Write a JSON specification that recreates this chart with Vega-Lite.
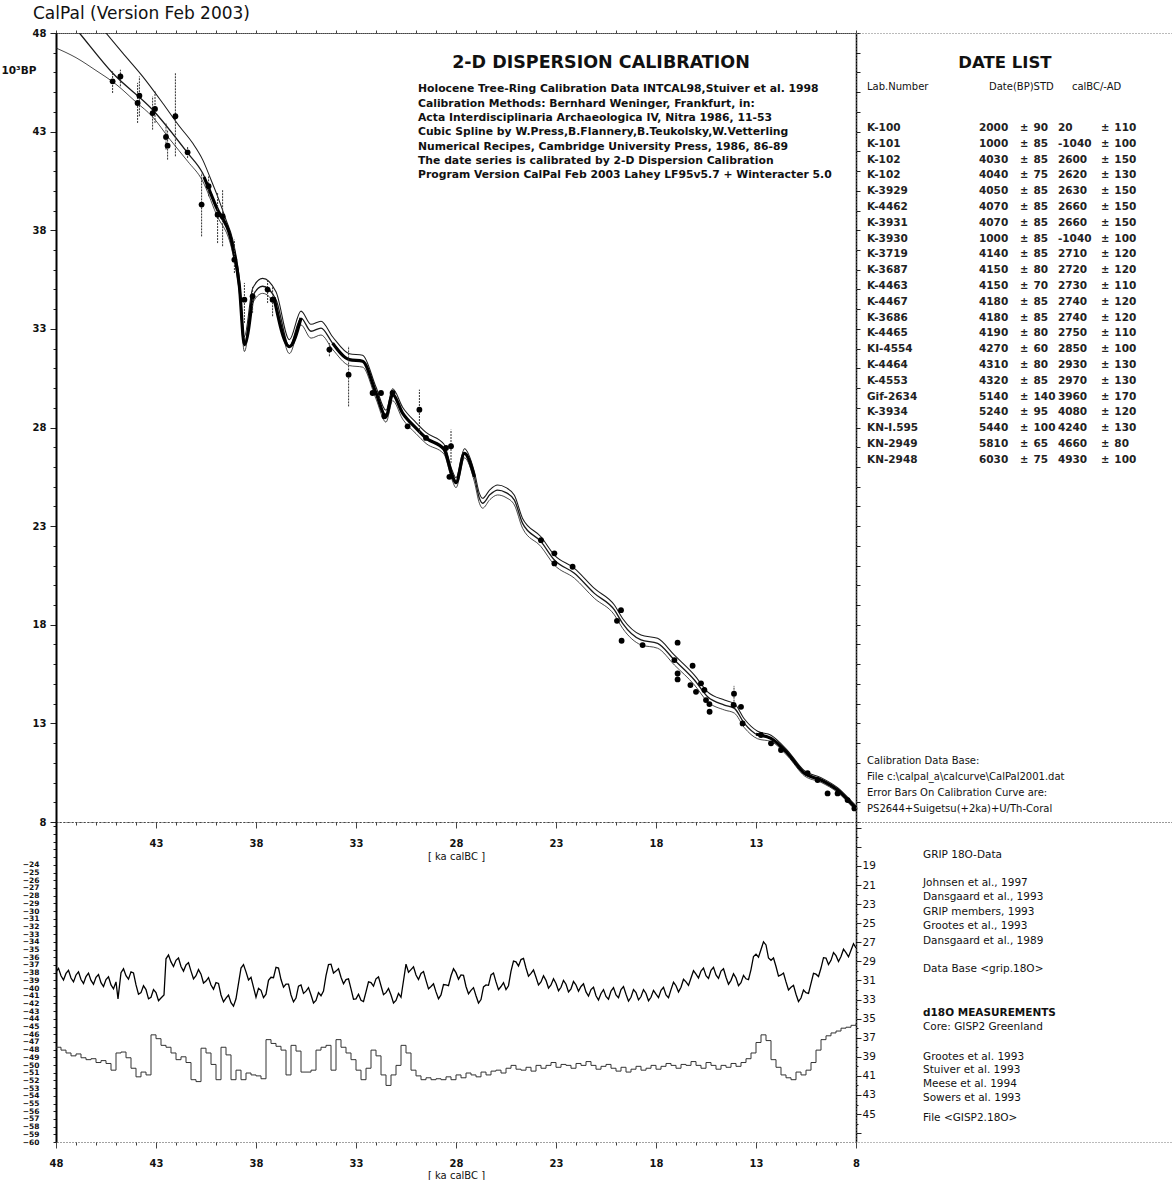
{
"$schema": "https://vega.github.io/schema/vega-lite/v6.json",
"background": "white",
"padding": {"left": 0, "top": 4, "right": 0, "bottom": 0},
"config": {
  "font": "DejaVu Sans",
  "view": {"stroke": null},
  "axis": {"grid": false, "labelFont": "DejaVu Sans", "labelFontSize": 10, "labelFontWeight": "bold", "labelColor": "#111", "tickColor": "#222", "domainColor": "#111", "titleFont": "DejaVu Sans", "titleFontWeight": "normal", "titleFontSize": 10, "titleColor": "#111", "labelOverlap": false, "labelFlush": false},
  "text": {"color": "#111"}
},
"columns": 2,
"spacing": 0,
"bounds": "flush",
"align": "each",
"concat": [
  {
    "width": 800, "height": 789,
    "view": {"stroke": "#444", "strokeDash": [2, 2]},
    "layer": [
      {
        "data": {"name": "curve"},
        "mark": {"type": "line", "interpolate": "monotone", "clip": true, "color": "#1a1a1a"},
        "encoding": {
          "x": {"field": "ka", "type": "quantitative", "scale": {"domain": [8, 48], "reverse": true, "nice": false, "zero": false},
            "axis": {"orient": "bottom", "values": [8,9,10,11,12,13,14,15,16,17,18,19,20,21,22,23,24,25,26,27,28,29,30,31,32,33,34,35,36,37,38,39,40,41,42,43,44,45,46,47,48],
              "labelExpr": "((datum.value-8)%5===0 && datum.value>8 && datum.value<48) ? datum.label : ''",
              "tickSize": {"condition": {"test": "(datum.value-8)%5===0", "value": 6}, "value": 3},
              "labelPadding": 10, "domainDash": [1, 2], "domainColor": "#444", "tickColor": "#444", "title": "[ ka calBC ]", "titlePadding": 3}},
          "y": {"field": "bp", "type": "quantitative", "scale": {"domain": [8, 48], "nice": false, "zero": false},
            "axis": {"orient": "left", "values": [8,9,10,11,12,13,14,15,16,17,18,19,20,21,22,23,24,25,26,27,28,29,30,31,32,33,34,35,36,37,38,39,40,41,42,43,44,45,46,47,48],
              "labelExpr": "(datum.value-8)%5===0 ? datum.label : ''",
              "tickSize": {"condition": {"test": "(datum.value-8)%5===0", "value": 6}, "value": 3},
              "labelPadding": 4, "domainColor": "black", "domainWidth": 2,
              "title": "10³BP", "titleAngle": 0, "titleX": -55, "titleY": 37, "titleAlign": "left", "titleBaseline": "middle", "titleFontWeight": "bold", "titleFontSize": 10.5}},
          "detail": {"field": "series"},
          "strokeWidth": {"field": "series", "type": "nominal", "scale": {"domain": ["center", "upper", "lower"], "range": [1.3, 0.8, 0.8]}, "legend": null}
        }
      },
      {
        "data": {"name": "dense"},
        "mark": {"type": "line", "interpolate": "monotone", "clip": true, "color": "black", "strokeWidth": 3.2},
        "encoding": {
          "x": {"field": "ka", "type": "quantitative", "scale": {"domain": [8, 48], "reverse": true, "nice": false, "zero": false}, "axis": null},
          "y": {"field": "bp", "type": "quantitative", "scale": {"domain": [8, 48], "nice": false, "zero": false},
            "axis": {"orient": "right", "values": [8,9,10,11,12,13,14,15,16,17,18,19,20,21,22,23,24,25,26,27,28,29,30,31,32,33,34,35,36,37,38,39,40,41,42,43,44,45,46,47,48],
              "labels": false, "tickSize": 4, "domainColor": "black", "domainWidth": 1.5, "title": null}},
          "detail": {"field": "seg"}
        }
      },
      {
        "data": {"name": "dates"},
        "transform": [{"filter": "isValid(datum.lo)"}],
        "mark": {"type": "rule", "color": "#333", "strokeWidth": 1, "strokeDash": [2, 1]},
        "encoding": {
          "x": {"field": "ka", "type": "quantitative", "scale": {"domain": [8, 48], "reverse": true, "nice": false, "zero": false}, "axis": null},
          "y": {"field": "lo", "type": "quantitative", "scale": {"domain": [8, 48], "nice": false, "zero": false}, "axis": null},
          "y2": {"field": "hi"}
        }
      },
      {
        "data": {"name": "dates"},
        "mark": {"type": "circle", "size": 34, "color": "black", "opacity": 1},
        "encoding": {
          "x": {"field": "ka", "type": "quantitative", "scale": {"domain": [8, 48], "reverse": true, "nice": false, "zero": false}, "axis": null},
          "y": {"field": "bp", "type": "quantitative", "scale": {"domain": [8, 48], "nice": false, "zero": false}, "axis": null}
        }
      },
      {
        "data": {"values": [{}]},
        "mark": {"type": "text", "fontSize": 17.5, "fontWeight": "bold", "align": "center"},
        "encoding": {
          "x": {"datum": 20.75, "type": "quantitative", "scale": {"domain": [8, 48], "reverse": true, "nice": false, "zero": false}, "axis": null},
          "y": {"datum": 46.48, "type": "quantitative", "scale": {"domain": [8, 48], "nice": false, "zero": false}, "axis": null},
          "text": {"value": "2-D DISPERSION CALIBRATION"}
        }
      },
      {
        "data": {"values": [{}]},
        "mark": {"type": "text", "fontSize": 10.8, "fontWeight": "bold", "align": "left", "baseline": "top", "lineHeight": 14.33},
        "encoding": {
          "x": {"datum": 29.9, "type": "quantitative", "scale": {"domain": [8, 48], "reverse": true, "nice": false, "zero": false}, "axis": null},
          "y": {"datum": 45.445, "type": "quantitative", "scale": {"domain": [8, 48], "nice": false, "zero": false}, "axis": null},
          "text": {"value": ["Holocene Tree-Ring Calibration Data INTCAL98,Stuiver et al. 1998", "Calibration Methods:  Bernhard Weninger, Frankfurt, in:", "Acta Interdisciplinaria Archaeologica IV, Nitra 1986, 11-53", "Cubic Spline by  W.Press,B.Flannery,B.Teukolsky,W.Vetterling", "Numerical Recipes, Cambridge University Press, 1986, 86-89", "The date series is calibrated by 2-D Dispersion Calibration", "Program Version CalPal Feb 2003 Lahey LF95v5.7 + Winteracter 5.0"]}
        }
      },
      {
        "data": {"values": [{}]},
        "mark": {"type": "text", "fontSize": 17, "fontWeight": "normal", "align": "left"},
        "encoding": {
          "x": {"datum": 49.15, "type": "quantitative", "scale": {"domain": [8, 48], "reverse": true, "nice": false, "zero": false},
            "axis": {"orient": "top", "values": [8,9,10,11,12,13,14,15,16,17,18,19,20,21,22,23,24,25,26,27,28,29,30,31,32,33,34,35,36,37,38,39,40,41,42,43,44,45,46,47,48],
              "labels": false, "tickSize": 3, "domainDash": [2, 2], "domainColor": "#444", "tickColor": "#444", "title": null}},
          "y": {"datum": 48.96, "type": "quantitative", "scale": {"domain": [8, 48], "nice": false, "zero": false}, "axis": null},
          "text": {"value": "CalPal (Version Feb 2003)"}
        }
      }
    ]
  },
  {
    "width": 317, "height": 789,
    "view": {"stroke": "#777", "strokeDash": [1, 2]},
    "layer": [
      {
        "data": {"values": [{}]},
        "mark": {"type": "text", "fontSize": 16.5, "fontWeight": "bold", "align": "center"},
        "encoding": {
          "x": {"datum": 47, "type": "quantitative", "scale": {"domain": [0, 100], "nice": false, "zero": false}, "axis": null},
          "y": {"datum": -3.11, "type": "quantitative", "scale": {"domain": [-5.013, 44.924], "reverse": true, "nice": false, "zero": false}, "axis": null},
          "text": {"value": "DATE LIST"}
        }
      },
      {
        "data": {"values": [{}]},
        "mark": {"type": "text", "fontSize": 10, "align": "left"},
        "encoding": {
          "x": {"datum": 3.47, "type": "quantitative", "scale": {"domain": [0, 100], "nice": false, "zero": false}, "axis": null},
          "y": {"datum": -1.59, "type": "quantitative", "scale": {"domain": [-5.013, 44.924], "reverse": true, "nice": false, "zero": false}, "axis": null},
          "text": {"value": "Lab.Number"}
        }
      },
      {
        "data": {"values": [{}]},
        "mark": {"type": "text", "fontSize": 10, "align": "left"},
        "encoding": {
          "x": {"datum": 41.96, "type": "quantitative", "scale": {"domain": [0, 100], "nice": false, "zero": false}, "axis": null},
          "y": {"datum": -1.59, "type": "quantitative", "scale": {"domain": [-5.013, 44.924], "reverse": true, "nice": false, "zero": false}, "axis": null},
          "text": {"value": "Date(BP)STD"}
        }
      },
      {
        "data": {"values": [{}]},
        "mark": {"type": "text", "fontSize": 10, "align": "left"},
        "encoding": {
          "x": {"datum": 68.1, "type": "quantitative", "scale": {"domain": [0, 100], "nice": false, "zero": false}, "axis": null},
          "y": {"datum": -1.59, "type": "quantitative", "scale": {"domain": [-5.013, 44.924], "reverse": true, "nice": false, "zero": false}, "axis": null},
          "text": {"value": "calBC/-AD"}
        }
      },
      {
        "data": {"name": "datelist"},
        "mark": {"type": "text", "fontSize": 10.5, "fontWeight": "bold", "align": "left", "color": "#222"},
        "encoding": {
          "x": {"datum": 3.47, "type": "quantitative", "scale": {"domain": [0, 100], "nice": false, "zero": false}, "axis": null},
          "y": {"field": "n", "type": "quantitative", "scale": {"domain": [-5.013, 44.924], "reverse": true, "nice": false, "zero": false}, "axis": null},
          "text": {"field": "lab", "type": "nominal"}
        }
      },
      {
        "data": {"name": "datelist"},
        "mark": {"type": "text", "fontSize": 10.5, "fontWeight": "bold", "align": "left", "color": "#222"},
        "encoding": {
          "x": {"datum": 38.8, "type": "quantitative", "scale": {"domain": [0, 100], "nice": false, "zero": false}, "axis": null},
          "y": {"field": "n", "type": "quantitative", "scale": {"domain": [-5.013, 44.924], "reverse": true, "nice": false, "zero": false}, "axis": null},
          "text": {"field": "date", "type": "nominal"}
        }
      },
      {
        "data": {"name": "datelist"},
        "mark": {"type": "text", "fontSize": 10, "fontWeight": "bold", "align": "left", "color": "#222"},
        "encoding": {
          "x": {"datum": 51.7, "type": "quantitative", "scale": {"domain": [0, 100], "nice": false, "zero": false}, "axis": null},
          "y": {"field": "n", "type": "quantitative", "scale": {"domain": [-5.013, 44.924], "reverse": true, "nice": false, "zero": false}, "axis": null},
          "text": {"value": "±"}
        }
      },
      {
        "data": {"name": "datelist"},
        "mark": {"type": "text", "fontSize": 10.5, "fontWeight": "bold", "align": "left", "color": "#222"},
        "encoding": {
          "x": {"datum": 56, "type": "quantitative", "scale": {"domain": [0, 100], "nice": false, "zero": false}, "axis": null},
          "y": {"field": "n", "type": "quantitative", "scale": {"domain": [-5.013, 44.924], "reverse": true, "nice": false, "zero": false}, "axis": null},
          "text": {"field": "std", "type": "nominal"}
        }
      },
      {
        "data": {"name": "datelist"},
        "mark": {"type": "text", "fontSize": 10.5, "fontWeight": "bold", "align": "left", "color": "#222"},
        "encoding": {
          "x": {"datum": 63.7, "type": "quantitative", "scale": {"domain": [0, 100], "nice": false, "zero": false}, "axis": null},
          "y": {"field": "n", "type": "quantitative", "scale": {"domain": [-5.013, 44.924], "reverse": true, "nice": false, "zero": false}, "axis": null},
          "text": {"field": "cal", "type": "nominal"}
        }
      },
      {
        "data": {"name": "datelist"},
        "mark": {"type": "text", "fontSize": 10, "fontWeight": "bold", "align": "left", "color": "#222"},
        "encoding": {
          "x": {"datum": 77.3, "type": "quantitative", "scale": {"domain": [0, 100], "nice": false, "zero": false}, "axis": null},
          "y": {"field": "n", "type": "quantitative", "scale": {"domain": [-5.013, 44.924], "reverse": true, "nice": false, "zero": false}, "axis": null},
          "text": {"value": "±"}
        }
      },
      {
        "data": {"name": "datelist"},
        "mark": {"type": "text", "fontSize": 10.5, "fontWeight": "bold", "align": "left", "color": "#222"},
        "encoding": {
          "x": {"datum": 81.5, "type": "quantitative", "scale": {"domain": [0, 100], "nice": false, "zero": false}, "axis": null},
          "y": {"field": "n", "type": "quantitative", "scale": {"domain": [-5.013, 44.924], "reverse": true, "nice": false, "zero": false}, "axis": null},
          "text": {"field": "calstd", "type": "nominal"}
        }
      },
      {
        "data": {"values": [{}]},
        "mark": {"type": "text", "fontSize": 10, "align": "left", "baseline": "top", "lineHeight": 16},
        "encoding": {
          "x": {"datum": 3.47, "type": "quantitative", "scale": {"domain": [0, 100], "nice": false, "zero": false}, "axis": null},
          "y": {"datum": 40.73, "type": "quantitative", "scale": {"domain": [-5.013, 44.924], "reverse": true, "nice": false, "zero": false}, "axis": null},
          "text": {"value": ["Calibration Data Base:", "File c:\\calpal_a\\calcurve\\CalPal2001.dat", "Error Bars On Calibration Curve are:", "PS2644+Suigetsu(+2ka)+U/Th-Coral"]}
        }
      }
    ]
  },
  {
    "width": 800, "height": 320,
    "resolve": {"scale": {"y": "independent"}},
    "layer": [
      {
        "data": {"name": "grip"},
        "mark": {"type": "line", "color": "black", "strokeWidth": 1.3, "clip": true},
        "encoding": {
          "x": {"field": "ka", "type": "quantitative", "scale": {"domain": [8, 48], "reverse": true, "nice": false, "zero": false},
            "axis": {"orient": "bottom", "values": [8,9,10,11,12,13,14,15,16,17,18,19,20,21,22,23,24,25,26,27,28,29,30,31,32,33,34,35,36,37,38,39,40,41,42,43,44,45,46,47,48],
              "labelExpr": "(datum.value-8)%5===0 ? datum.label : ''",
              "tickSize": {"condition": {"test": "(datum.value-8)%5===0", "value": 6}, "value": 3},
              "labelPadding": 10, "domainDash": [1, 2], "domainColor": "#444", "tickColor": "#444", "title": "[ ka calBC ]", "titlePadding": 2}},
          "y": {"field": "d18o", "type": "quantitative", "scale": {"domain": [-60, -18.43], "nice": false, "zero": false},
            "axis": {"orient": "left", "values": [-60,-59,-58,-57,-56,-55,-54,-53,-52,-51,-50,-49,-48,-47,-46,-45,-44,-43,-42,-41,-40,-39,-38,-37,-36,-35,-34,-33,-32,-31,-30,-29,-28,-27,-26,-25,-24,-23,-22,-21,-20,-19],
              "labelExpr": "datum.value<=-24 ? datum.label : ''", "labelFontSize": 7.5, "labelFontWeight": "bold",
              "tickSize": 3, "labelPadding": 14, "domainColor": "black", "domainWidth": 2, "title": null}}
        }
      },
      {
        "data": {"name": "gisp2"},
        "mark": {"type": "line", "interpolate": "step-after", "color": "#333", "strokeWidth": 1, "clip": true},
        "encoding": {
          "x": {"field": "ka", "type": "quantitative", "scale": {"domain": [8, 48], "reverse": true, "nice": false, "zero": false},
            "axis": {"orient": "bottom", "values": [8,9,10,11,12,13,14,15,16,17,18,19,20,21,22,23,24,25,26,27,28,29,30,31,32,33,34,35,36,37,38,39,40,41,42,43,44,45,46,47,48],
              "labelExpr": "(datum.value-8)%5===0 ? datum.label : ''",
              "tickSize": {"condition": {"test": "(datum.value-8)%5===0", "value": 6}, "value": 3},
              "labelPadding": 10, "domainDash": [1, 2], "domainColor": "#444", "tickColor": "#444", "title": "[ ka calBC ]", "titlePadding": 2}},
          "y": {"field": "d18o", "type": "quantitative", "scale": {"domain": [14.39, 47.93], "reverse": true, "nice": false, "zero": false},
            "axis": {"orient": "right", "values": [15,16,17,18,19,20,21,22,23,24,25,26,27,28,29,30,31,32,33,34,35,36,37,38,39,40,41,42,43,44,45,46,47],
              "labelExpr": "(datum.value%2===1 && datum.value>=19 && datum.value<=45) ? datum.label : ''",
              "tickSize": {"condition": {"test": "datum.value%2===1", "value": 5}, "value": 2},
              "labelPadding": 1, "labelFontWeight": "normal", "labelFontSize": 10.5, "domainColor": "black", "domainWidth": 1.5, "title": null}}
        }
      }
    ]
  },
  {
    "width": 317, "height": 320,
    "view": {"stroke": "#777", "strokeDash": [1, 2]},
    "layer": [
      {
        "data": {"values": [{}]},
        "mark": {"type": "text", "fontSize": 10.5, "align": "left"},
        "encoding": {
          "x": {"datum": 6.7, "type": "quantitative", "scale": {"domain": [0, 31.7], "nice": false, "zero": false}, "axis": null},
          "y": {"datum": 3.3, "type": "quantitative", "scale": {"domain": [0, 32], "reverse": true, "nice": false, "zero": false}, "axis": null},
          "text": {"value": "GRIP 18O-Data"}
        }
      },
      {
        "data": {"values": [{}]},
        "mark": {"type": "text", "fontSize": 10.5, "align": "left", "baseline": "top", "lineHeight": 14.5},
        "encoding": {
          "x": {"datum": 6.7, "type": "quantitative", "scale": {"domain": [0, 31.7], "nice": false, "zero": false}, "axis": null},
          "y": {"datum": 5.55, "type": "quantitative", "scale": {"domain": [0, 32], "reverse": true, "nice": false, "zero": false}, "axis": null},
          "text": {"value": ["Johnsen et al., 1997", "Dansgaard et al., 1993", "GRIP members, 1993", "Grootes et al., 1993", "Dansgaard et al., 1989"]}
        }
      },
      {
        "data": {"values": [{}]},
        "mark": {"type": "text", "fontSize": 10.5, "align": "left"},
        "encoding": {
          "x": {"datum": 6.7, "type": "quantitative", "scale": {"domain": [0, 31.7], "nice": false, "zero": false}, "axis": null},
          "y": {"datum": 14.7, "type": "quantitative", "scale": {"domain": [0, 32], "reverse": true, "nice": false, "zero": false}, "axis": null},
          "text": {"value": "Data Base <grip.18O>"}
        }
      },
      {
        "data": {"values": [{}]},
        "mark": {"type": "text", "fontSize": 10.5, "fontWeight": "bold", "align": "left"},
        "encoding": {
          "x": {"datum": 6.7, "type": "quantitative", "scale": {"domain": [0, 31.7], "nice": false, "zero": false}, "axis": null},
          "y": {"datum": 19.1, "type": "quantitative", "scale": {"domain": [0, 32], "reverse": true, "nice": false, "zero": false}, "axis": null},
          "text": {"value": "d18O MEASUREMENTS"}
        }
      },
      {
        "data": {"values": [{}]},
        "mark": {"type": "text", "fontSize": 10.5, "align": "left"},
        "encoding": {
          "x": {"datum": 6.7, "type": "quantitative", "scale": {"domain": [0, 31.7], "nice": false, "zero": false}, "axis": null},
          "y": {"datum": 20.5, "type": "quantitative", "scale": {"domain": [0, 32], "reverse": true, "nice": false, "zero": false}, "axis": null},
          "text": {"value": "Core: GISP2 Greenland"}
        }
      },
      {
        "data": {"values": [{}]},
        "mark": {"type": "text", "fontSize": 10.5, "align": "left", "baseline": "top", "lineHeight": 13.7},
        "encoding": {
          "x": {"datum": 6.7, "type": "quantitative", "scale": {"domain": [0, 31.7], "nice": false, "zero": false}, "axis": null},
          "y": {"datum": 22.95, "type": "quantitative", "scale": {"domain": [0, 32], "reverse": true, "nice": false, "zero": false}, "axis": null},
          "text": {"value": ["Grootes et al. 1993", "Stuiver et al. 1993", "Meese et al. 1994", "Sowers et al. 1993"]}
        }
      },
      {
        "data": {"values": [{}]},
        "mark": {"type": "text", "fontSize": 10.5, "align": "left"},
        "encoding": {
          "x": {"datum": 6.7, "type": "quantitative", "scale": {"domain": [0, 31.7], "nice": false, "zero": false}, "axis": null},
          "y": {"datum": 29.6, "type": "quantitative", "scale": {"domain": [0, 32], "reverse": true, "nice": false, "zero": false}, "axis": null},
          "text": {"value": "File <GISP2.18O>"}
        }
      }
    ]
  }
],
"datasets": {
  "curve": [
    {"series":"center","ka":47.5,"bp":48.82},{"series":"center","ka":46.83,"bp":48.0},{"series":"center","ka":45.17,"bp":45.97},{"series":"center","ka":43.17,"bp":44.11},{"series":"center","ka":41.42,"bp":41.92},{"series":"center","ka":40.67,"bp":40.9},{"series":"center","ka":40.0,"bp":39.21},{"series":"center","ka":39.17,"bp":37.19},{"series":"center","ka":38.83,"bp":35.16},{"series":"center","ka":38.58,"bp":32.2},{"series":"center","ka":38.17,"bp":34.65},{"series":"center","ka":37.67,"bp":35.16},{"series":"center","ka":37.0,"bp":34.48},{"series":"center","ka":36.33,"bp":32.1},{"series":"center","ka":35.75,"bp":33.55},{"series":"center","ka":35.25,"bp":32.88},{"series":"center","ka":34.75,"bp":33.04},{"series":"center","ka":34.17,"bp":32.28},{"series":"center","ka":33.33,"bp":31.44},{"series":"center","ka":32.67,"bp":31.36},{"series":"center","ka":32.0,"bp":29.75},{"series":"center","ka":31.5,"bp":28.57},{"series":"center","ka":31.17,"bp":29.66},{"series":"center","ka":30.67,"bp":28.73},{"series":"center","ka":30.0,"bp":27.97},{"series":"center","ka":29.5,"bp":27.47},{"series":"center","ka":28.6,"bp":26.9},{"series":"center","ka":28.2,"bp":25.6},{"series":"center","ka":28.0,"bp":25.2},{"series":"center","ka":27.58,"bp":26.69},{"series":"center","ka":27.08,"bp":25.5},{"series":"center","ka":26.83,"bp":24.41},{"series":"center","ka":26.67,"bp":24.16},{"series":"center","ka":26.3,"bp":24.6},{"series":"center","ka":25.92,"bp":24.83},{"series":"center","ka":25.5,"bp":24.7},{"series":"center","ka":25.08,"bp":24.32},{"series":"center","ka":24.67,"bp":23.14},{"series":"center","ka":23.75,"bp":22.21},{"series":"center","ka":23.08,"bp":21.28},{"series":"center","ka":22.08,"bp":20.61},{"series":"center","ka":21.08,"bp":19.59},{"series":"center","ka":20.08,"bp":18.75},{"series":"center","ka":19.67,"bp":18.07},{"series":"center","ka":18.75,"bp":17.23},{"series":"center","ka":17.92,"bp":17.06},{"series":"center","ka":17.08,"bp":16.21},{"series":"center","ka":16.08,"bp":15.2},{"series":"center","ka":15.42,"bp":14.35},{"series":"center","ka":14.58,"bp":13.93},{"series":"center","ka":14.08,"bp":13.76},{"series":"center","ka":13.58,"bp":13.0},{"series":"center","ka":12.92,"bp":12.41},{"series":"center","ka":12.25,"bp":12.24},{"series":"center","ka":11.42,"bp":11.48},{"series":"center","ka":10.58,"bp":10.47},{"series":"center","ka":9.75,"bp":10.13},{"series":"center","ka":8.92,"bp":9.62},{"series":"center","ka":8.08,"bp":8.78},{"series":"center","ka":8.0,"bp":8.7},
    {"series":"upper","ka":45.5,"bp":48.0},{"series":"upper","ka":44.67,"bp":46.99},{"series":"upper","ka":43.67,"bp":45.8},{"series":"upper","ka":42.67,"bp":44.45},{"series":"upper","ka":41.83,"bp":43.27},{"series":"upper","ka":41.17,"bp":42.42},{"series":"upper","ka":40.67,"bp":41.58},{"series":"upper","ka":40.25,"bp":40.56},{"series":"upper","ka":39.92,"bp":39.72},{"series":"upper","ka":39.5,"bp":38.53},{"series":"upper","ka":39.17,"bp":37.55},{"series":"upper","ka":38.83,"bp":35.55},{"series":"upper","ka":38.58,"bp":32.6},{"series":"upper","ka":38.17,"bp":35.05},{"series":"upper","ka":37.67,"bp":35.56},{"series":"upper","ka":37.0,"bp":34.88},{"series":"upper","ka":36.33,"bp":32.45},{"series":"upper","ka":35.75,"bp":33.9},{"series":"upper","ka":35.25,"bp":33.23},{"series":"upper","ka":34.75,"bp":33.39},{"series":"upper","ka":34.17,"bp":32.6},{"series":"upper","ka":33.33,"bp":31.74},{"series":"upper","ka":32.67,"bp":31.66},{"series":"upper","ka":32.0,"bp":30.05},{"series":"upper","ka":31.5,"bp":28.87},{"series":"upper","ka":31.17,"bp":29.96},{"series":"upper","ka":30.67,"bp":29.03},{"series":"upper","ka":30.0,"bp":28.25},{"series":"upper","ka":29.5,"bp":27.75},{"series":"upper","ka":28.6,"bp":27.15},{"series":"upper","ka":28.2,"bp":25.85},{"series":"upper","ka":28.0,"bp":25.45},{"series":"upper","ka":27.58,"bp":26.92},{"series":"upper","ka":27.08,"bp":25.75},{"series":"upper","ka":26.83,"bp":24.66},{"series":"upper","ka":26.67,"bp":24.41},{"series":"upper","ka":26.3,"bp":24.85},{"series":"upper","ka":25.92,"bp":25.08},{"series":"upper","ka":25.5,"bp":24.95},{"series":"upper","ka":25.08,"bp":24.57},{"series":"upper","ka":24.67,"bp":23.39},{"series":"upper","ka":23.75,"bp":22.46},{"series":"upper","ka":23.08,"bp":21.53},{"series":"upper","ka":22.08,"bp":20.86},{"series":"upper","ka":21.08,"bp":19.84},{"series":"upper","ka":20.08,"bp":19.0},{"series":"upper","ka":19.67,"bp":18.32},{"series":"upper","ka":18.75,"bp":17.48},{"series":"upper","ka":17.92,"bp":17.31},{"series":"upper","ka":17.08,"bp":16.46},{"series":"upper","ka":16.08,"bp":15.45},{"series":"upper","ka":15.42,"bp":14.6},{"series":"upper","ka":14.58,"bp":14.18},{"series":"upper","ka":14.08,"bp":14.0},{"series":"upper","ka":13.58,"bp":13.22},{"series":"upper","ka":12.92,"bp":12.6},{"series":"upper","ka":12.25,"bp":12.4},{"series":"upper","ka":11.42,"bp":11.62},{"series":"upper","ka":10.58,"bp":10.6},{"series":"upper","ka":9.75,"bp":10.25},{"series":"upper","ka":8.92,"bp":9.74},{"series":"upper","ka":8.08,"bp":8.9},{"series":"upper","ka":8.0,"bp":8.82},
    {"series":"lower","ka":48.0,"bp":47.24},{"series":"lower","ka":47.0,"bp":46.75},{"series":"lower","ka":46.0,"bp":46.1},{"series":"lower","ka":45.0,"bp":45.4},{"series":"lower","ka":44.0,"bp":44.5},{"series":"lower","ka":43.17,"bp":43.75},{"series":"lower","ka":42.3,"bp":42.6},{"series":"lower","ka":41.42,"bp":41.5},{"series":"lower","ka":40.67,"bp":40.5},{"series":"lower","ka":40.0,"bp":38.85},{"series":"lower","ka":39.17,"bp":36.85},{"series":"lower","ka":38.83,"bp":34.8},{"series":"lower","ka":38.58,"bp":31.85},{"series":"lower","ka":38.17,"bp":34.3},{"series":"lower","ka":37.67,"bp":34.8},{"series":"lower","ka":37.0,"bp":34.12},{"series":"lower","ka":36.33,"bp":31.75},{"series":"lower","ka":35.75,"bp":33.2},{"series":"lower","ka":35.25,"bp":32.53},{"series":"lower","ka":34.75,"bp":32.69},{"series":"lower","ka":34.17,"bp":31.96},{"series":"lower","ka":33.33,"bp":31.14},{"series":"lower","ka":32.67,"bp":31.06},{"series":"lower","ka":32.0,"bp":29.45},{"series":"lower","ka":31.5,"bp":28.27},{"series":"lower","ka":31.17,"bp":29.36},{"series":"lower","ka":30.67,"bp":28.43},{"series":"lower","ka":30.0,"bp":27.69},{"series":"lower","ka":29.5,"bp":27.19},{"series":"lower","ka":28.6,"bp":26.65},{"series":"lower","ka":28.2,"bp":25.35},{"series":"lower","ka":28.0,"bp":24.95},{"series":"lower","ka":27.58,"bp":26.46},{"series":"lower","ka":27.08,"bp":25.25},{"series":"lower","ka":26.83,"bp":24.16},{"series":"lower","ka":26.67,"bp":23.91},{"series":"lower","ka":26.3,"bp":24.35},{"series":"lower","ka":25.92,"bp":24.58},{"series":"lower","ka":25.5,"bp":24.45},{"series":"lower","ka":25.08,"bp":24.07},{"series":"lower","ka":24.67,"bp":22.89},{"series":"lower","ka":23.75,"bp":21.96},{"series":"lower","ka":23.08,"bp":21.03},{"series":"lower","ka":22.08,"bp":20.36},{"series":"lower","ka":21.08,"bp":19.34},{"series":"lower","ka":20.08,"bp":18.5},{"series":"lower","ka":19.67,"bp":17.82},{"series":"lower","ka":18.75,"bp":16.98},{"series":"lower","ka":17.92,"bp":16.81},{"series":"lower","ka":17.08,"bp":15.96},{"series":"lower","ka":16.08,"bp":14.95},{"series":"lower","ka":15.42,"bp":14.1},{"series":"lower","ka":14.58,"bp":13.68},{"series":"lower","ka":14.08,"bp":13.52},{"series":"lower","ka":13.58,"bp":12.78},{"series":"lower","ka":12.92,"bp":12.22},{"series":"lower","ka":12.25,"bp":12.08},{"series":"lower","ka":11.42,"bp":11.34},{"series":"lower","ka":10.58,"bp":10.34},{"series":"lower","ka":9.75,"bp":10.01},{"series":"lower","ka":8.92,"bp":9.5},{"series":"lower","ka":8.08,"bp":8.66},{"series":"lower","ka":8.0,"bp":8.58}
  ],
  "dense": [
    {"seg":"a","ka":40.6,"bp":40.7},{"seg":"a","ka":40.0,"bp":39.21},{"seg":"a","ka":39.17,"bp":37.19},{"seg":"a","ka":38.83,"bp":35.16},{"seg":"a","ka":38.58,"bp":32.2},{"seg":"a","ka":38.17,"bp":34.65},
    {"seg":"b","ka":37.1,"bp":34.6},{"seg":"b","ka":36.33,"bp":32.1},{"seg":"b","ka":35.75,"bp":33.55},
    {"seg":"c","ka":34.17,"bp":32.28},{"seg":"c","ka":33.33,"bp":31.44},{"seg":"c","ka":32.67,"bp":31.36},{"seg":"c","ka":32.0,"bp":29.75},{"seg":"c","ka":31.5,"bp":28.57},{"seg":"c","ka":31.17,"bp":29.66},{"seg":"c","ka":30.67,"bp":28.73},{"seg":"c","ka":30.0,"bp":27.97},{"seg":"c","ka":29.5,"bp":27.47},{"seg":"c","ka":28.6,"bp":26.9},{"seg":"c","ka":28.2,"bp":25.6},{"seg":"c","ka":28.0,"bp":25.2},{"seg":"c","ka":27.58,"bp":26.69},{"seg":"c","ka":27.08,"bp":25.5},
    {"seg":"d","ka":13.0,"bp":12.45},{"seg":"d","ka":12.25,"bp":12.24},{"seg":"d","ka":11.42,"bp":11.48},{"seg":"d","ka":10.58,"bp":10.47},{"seg":"d","ka":9.75,"bp":10.13},{"seg":"d","ka":8.92,"bp":9.62},{"seg":"d","ka":8.08,"bp":8.78},{"seg":"d","ka":8.0,"bp":8.7}
  ],
  "dates": [
    {"ka":45.17,"bp":45.55,"lo":44.96,"hi":46.06},{"ka":44.78,"bp":45.8,"lo":45.3,"hi":46.14},{"ka":43.92,"bp":44.45,"lo":43.44,"hi":45.47},{"ka":43.83,"bp":44.82,"lo":43.78,"hi":45.8},{"ka":43.17,"bp":43.94,"lo":43.1,"hi":44.79},{"ka":43.05,"bp":44.15,"lo":43.44,"hi":45.04},{"ka":42.5,"bp":42.73,"lo":42.09,"hi":43.44},{"ka":42.42,"bp":42.29,"lo":41.58,"hi":43.1},{"ka":42.03,"bp":43.78,"lo":41.75,"hi":45.97},{"ka":41.42,"bp":41.95,"lo":41.66,"hi":42.25},{"ka":40.72,"bp":39.3,"lo":37.69,"hi":40.9},{"ka":40.37,"bp":40.23,"lo":39.72,"hi":40.73},{"ka":39.92,"bp":38.79,"lo":37.35,"hi":39.89},{"ka":39.67,"bp":38.71,"lo":37.19,"hi":40.06},{"ka":39.08,"bp":36.51,"lo":35.83,"hi":37.52},{"ka":38.58,"bp":34.48,"lo":33.3,"hi":35.33},{"ka":38.17,"bp":34.65,"lo":33.81,"hi":35.16},{"ka":37.42,"bp":34.99,"lo":34.31,"hi":35.5},{"ka":37.17,"bp":34.48,"lo":33.64,"hi":35.16},{"ka":34.33,"bp":31.95,"lo":31.61,"hi":32.28},{"ka":33.37,"bp":30.68,"lo":29.07,"hi":32.12},{"ka":29.83,"bp":28.9,"lo":27.72,"hi":29.92},{"ka":28.25,"bp":27.05,"lo":26.2,"hi":27.89},{"ka":14.1,"bp":14.5,"lo":14.1,"hi":14.9},
    {"ka":32.17,"bp":29.75},{"ka":31.75,"bp":29.75},{"ka":31.58,"bp":28.57},{"ka":31.17,"bp":29.75},{"ka":30.42,"bp":28.06},{"ka":29.5,"bp":27.47},{"ka":28.5,"bp":26.96},{"ka":28.33,"bp":25.5},{"ka":23.75,"bp":22.29},{"ka":23.08,"bp":21.62},{"ka":23.08,"bp":21.11},{"ka":22.17,"bp":20.94},{"ka":19.75,"bp":18.74},{"ka":19.95,"bp":18.2},{"ka":19.72,"bp":17.19},{"ka":18.67,"bp":16.97},{"ka":16.92,"bp":17.09},{"ka":17.08,"bp":16.21},{"ka":16.92,"bp":15.53},{"ka":16.92,"bp":15.23},{"ka":16.17,"bp":15.92},{"ka":16.28,"bp":14.94},{"ka":16.0,"bp":14.6},{"ka":15.75,"bp":15.03},{"ka":15.58,"bp":14.69},{"ka":15.5,"bp":14.18},{"ka":15.32,"bp":13.59},{"ka":15.33,"bp":13.98},{"ka":14.12,"bp":13.93},{"ka":13.75,"bp":13.84},{"ka":13.67,"bp":13.0},{"ka":12.75,"bp":12.41},{"ka":12.25,"bp":11.99},{"ka":11.75,"bp":11.65},{"ka":10.42,"bp":10.47},{"ka":9.92,"bp":10.13},{"ka":9.42,"bp":9.45},{"ka":8.92,"bp":9.45},{"ka":8.42,"bp":9.11},{"ka":8.08,"bp":8.69}
  ],
  "datelist": [
    {"n":1,"lab":"K-100","date":2000,"std":90,"cal":20,"calstd":110},
    {"n":2,"lab":"K-101","date":1000,"std":85,"cal":-1040,"calstd":100},
    {"n":3,"lab":"K-102","date":4030,"std":85,"cal":2600,"calstd":150},
    {"n":4,"lab":"K-102","date":4040,"std":75,"cal":2620,"calstd":130},
    {"n":5,"lab":"K-3929","date":4050,"std":85,"cal":2630,"calstd":150},
    {"n":6,"lab":"K-4462","date":4070,"std":85,"cal":2660,"calstd":150},
    {"n":7,"lab":"K-3931","date":4070,"std":85,"cal":2660,"calstd":150},
    {"n":8,"lab":"K-3930","date":1000,"std":85,"cal":-1040,"calstd":100},
    {"n":9,"lab":"K-3719","date":4140,"std":85,"cal":2710,"calstd":120},
    {"n":10,"lab":"K-3687","date":4150,"std":80,"cal":2720,"calstd":120},
    {"n":11,"lab":"K-4463","date":4150,"std":70,"cal":2730,"calstd":110},
    {"n":12,"lab":"K-4467","date":4180,"std":85,"cal":2740,"calstd":120},
    {"n":13,"lab":"K-3686","date":4180,"std":85,"cal":2740,"calstd":120},
    {"n":14,"lab":"K-4465","date":4190,"std":80,"cal":2750,"calstd":110},
    {"n":15,"lab":"KI-4554","date":4270,"std":60,"cal":2850,"calstd":100},
    {"n":16,"lab":"K-4464","date":4310,"std":80,"cal":2930,"calstd":130},
    {"n":17,"lab":"K-4553","date":4320,"std":85,"cal":2970,"calstd":130},
    {"n":18,"lab":"Gif-2634","date":5140,"std":140,"cal":3960,"calstd":170},
    {"n":19,"lab":"K-3934","date":5240,"std":95,"cal":4080,"calstd":120},
    {"n":20,"lab":"KN-I.595","date":5440,"std":100,"cal":4240,"calstd":130},
    {"n":21,"lab":"KN-2949","date":5810,"std":65,"cal":4660,"calstd":80},
    {"n":22,"lab":"KN-2948","date":6030,"std":75,"cal":4930,"calstd":100}
  ],
  "grip": [
    {"ka":48,"d18o":-37.9},{"ka":47.875,"d18o":-37.45},{"ka":47.75,"d18o":-38.4},{"ka":47.625,"d18o":-38.95},{"ka":47.5,"d18o":-38.1},{"ka":47.375,"d18o":-37.7},{"ka":47.25,"d18o":-38.7},{"ka":47.125,"d18o":-39.2},{"ka":47,"d18o":-38.3},{"ka":46.875,"d18o":-37.9},{"ka":46.75,"d18o":-38.9},{"ka":46.625,"d18o":-39.4},{"ka":46.5,"d18o":-38.5},{"ka":46.375,"d18o":-38.05},{"ka":46.25,"d18o":-39.0},{"ka":46.125,"d18o":-39.5},{"ka":46,"d18o":-38.6},{"ka":45.875,"d18o":-38.25},{"ka":45.75,"d18o":-39.3},{"ka":45.625,"d18o":-39.8},{"ka":45.5,"d18o":-38.9},{"ka":45.375,"d18o":-38.55},{"ka":45.25,"d18o":-39.6},{"ka":45.125,"d18o":-40.1},{"ka":45,"d18o":-39.2},{"ka":44.9,"d18o":-41.4},{"ka":44.75,"d18o":-38.0},{"ka":44.625,"d18o":-37.5},{"ka":44.5,"d18o":-38.4},{"ka":44.375,"d18o":-38.85},{"ka":44.25,"d18o":-37.9},{"ka":44.125,"d18o":-38.05},{"ka":44,"d18o":-39.6},{"ka":43.875,"d18o":-40.8},{"ka":43.75,"d18o":-40.6},{"ka":43.625,"d18o":-39.7},{"ka":43.5,"d18o":-40.2},{"ka":43.375,"d18o":-41.4},{"ka":43.25,"d18o":-41.2},{"ka":43.125,"d18o":-40.2},{"ka":43,"d18o":-40.6},{"ka":42.875,"d18o":-41.65},{"ka":42.75,"d18o":-41.3},{"ka":42.6,"d18o":-40.9},{"ka":42.5,"d18o":-36.2},{"ka":42.375,"d18o":-35.7},{"ka":42.25,"d18o":-36.6},{"ka":42.125,"d18o":-37.2},{"ka":42,"d18o":-36.4},{"ka":41.875,"d18o":-36.1},{"ka":41.75,"d18o":-37.2},{"ka":41.625,"d18o":-37.8},{"ka":41.5,"d18o":-37.0},{"ka":41.375,"d18o":-36.7},{"ka":41.25,"d18o":-37.8},{"ka":41.125,"d18o":-38.8},{"ka":41,"d18o":-38.4},{"ka":40.875,"d18o":-37.6},{"ka":40.75,"d18o":-38.2},{"ka":40.625,"d18o":-39.35},{"ka":40.5,"d18o":-39.1},{"ka":40.375,"d18o":-38.65},{"ka":40.25,"d18o":-39.6},{"ka":40.125,"d18o":-40.15},{"ka":40,"d18o":-39.3},{"ka":39.875,"d18o":-39.4},{"ka":39.75,"d18o":-40.9},{"ka":39.625,"d18o":-41.8},{"ka":39.5,"d18o":-41.3},{"ka":39.375,"d18o":-40.9},{"ka":39.25,"d18o":-41.9},{"ka":39.125,"d18o":-42.35},{"ka":39,"d18o":-41.4},{"ka":38.75,"d18o":-37.4},{"ka":38.625,"d18o":-36.95},{"ka":38.5,"d18o":-37.9},{"ka":38.375,"d18o":-38.95},{"ka":38.25,"d18o":-38.6},{"ka":38,"d18o":-41.2},{"ka":37.875,"d18o":-40.05},{"ka":37.75,"d18o":-40.3},{"ka":37.625,"d18o":-41.25},{"ka":37.5,"d18o":-40.8},{"ka":37.375,"d18o":-39.0},{"ka":37.25,"d18o":-38.6},{"ka":37.125,"d18o":-38.65},{"ka":37,"d18o":-37.3},{"ka":36.875,"d18o":-37.4},{"ka":36.75,"d18o":-38.9},{"ka":36.625,"d18o":-39.9},{"ka":36.5,"d18o":-39.5},{"ka":36.375,"d18o":-39.5},{"ka":36.25,"d18o":-40.9},{"ka":36.125,"d18o":-41.8},{"ka":36,"d18o":-41.3},{"ka":35.875,"d18o":-39.75},{"ka":35.75,"d18o":-39.6},{"ka":35.625,"d18o":-40.7},{"ka":35.5,"d18o":-40.4},{"ka":35.375,"d18o":-39.95},{"ka":35.25,"d18o":-40.9},{"ka":35.125,"d18o":-41.95},{"ka":35,"d18o":-41.6},{"ka":34.875,"d18o":-40.6},{"ka":34.75,"d18o":-41.0},{"ka":34.625,"d18o":-40.4},{"ka":34.5,"d18o":-38.4},{"ka":34.375,"d18o":-36.95},{"ka":34.25,"d18o":-36.9},{"ka":34.125,"d18o":-38.05},{"ka":34,"d18o":-37.8},{"ka":33.875,"d18o":-37.5},{"ka":33.75,"d18o":-38.6},{"ka":33.625,"d18o":-39.45},{"ka":33.5,"d18o":-38.9},{"ka":33.375,"d18o":-38.8},{"ka":33.25,"d18o":-40.1},{"ka":33.125,"d18o":-41.45},{"ka":33,"d18o":-41.4},{"ka":32.875,"d18o":-40.8},{"ka":32.75,"d18o":-41.6},{"ka":32.625,"d18o":-41.75},{"ka":32.5,"d18o":-40.5},{"ka":32.375,"d18o":-39.2},{"ka":32.25,"d18o":-39.3},{"ka":32.125,"d18o":-39.75},{"ka":32,"d18o":-38.8},{"ka":31.875,"d18o":-38.55},{"ka":31.75,"d18o":-39.7},{"ka":31.625,"d18o":-40.85},{"ka":31.5,"d18o":-40.6},{"ka":31.375,"d18o":-40.05},{"ka":31.25,"d18o":-40.9},{"ka":31.125,"d18o":-41.95},{"ka":31,"d18o":-41.6},{"ka":30.875,"d18o":-40.7},{"ka":30.75,"d18o":-41.2},{"ka":30.5,"d18o":-36.9},{"ka":30.375,"d18o":-37.95},{"ka":30.25,"d18o":-37.6},{"ka":30.125,"d18o":-37.25},{"ka":30,"d18o":-38.3},{"ka":29.875,"d18o":-38.9},{"ka":29.75,"d18o":-38.1},{"ka":29.625,"d18o":-37.85},{"ka":29.5,"d18o":-39.0},{"ka":29.375,"d18o":-40.1},{"ka":29.25,"d18o":-39.8},{"ka":29.125,"d18o":-39.45},{"ka":29,"d18o":-40.5},{"ka":28.875,"d18o":-41.4},{"ka":28.75,"d18o":-40.9},{"ka":28.625,"d18o":-39.55},{"ka":28.5,"d18o":-39.6},{"ka":28.375,"d18o":-39.7},{"ka":28.25,"d18o":-38.4},{"ka":28.125,"d18o":-37.5},{"ka":28,"d18o":-38.0},{"ka":27.875,"d18o":-38.85},{"ka":27.75,"d18o":-38.3},{"ka":27.625,"d18o":-38.35},{"ka":27.5,"d18o":-39.8},{"ka":27.375,"d18o":-40.75},{"ka":27.25,"d18o":-40.3},{"ka":27.125,"d18o":-39.95},{"ka":27,"d18o":-41.0},{"ka":26.875,"d18o":-41.95},{"ka":26.75,"d18o":-41.5},{"ka":26.625,"d18o":-39.85},{"ka":26.5,"d18o":-39.6},{"ka":26.375,"d18o":-39.65},{"ka":26.25,"d18o":-38.3},{"ka":26.125,"d18o":-38.05},{"ka":26,"d18o":-39.2},{"ka":25.875,"d18o":-40.2},{"ka":25.75,"d18o":-39.8},{"ka":25.625,"d18o":-39.3},{"ka":25.5,"d18o":-40.2},{"ka":25.375,"d18o":-39.7},{"ka":25.25,"d18o":-37.8},{"ka":25.125,"d18o":-36.5},{"ka":25,"d18o":-36.6},{"ka":24.875,"d18o":-37.15},{"ka":24.75,"d18o":-36.3},{"ka":24.625,"d18o":-36.15},{"ka":24.5,"d18o":-37.4},{"ka":24.375,"d18o":-38.45},{"ka":24.25,"d18o":-38.1},{"ka":24.125,"d18o":-37.65},{"ka":24,"d18o":-38.6},{"ka":23.875,"d18o":-39.6},{"ka":23.75,"d18o":-39.2},{"ka":23.625,"d18o":-38.4},{"ka":23.5,"d18o":-39.0},{"ka":23.375,"d18o":-40.0},{"ka":23.25,"d18o":-39.6},{"ka":23.125,"d18o":-38.8},{"ka":23,"d18o":-39.4},{"ka":22.875,"d18o":-40.35},{"ka":22.75,"d18o":-39.9},{"ka":22.625,"d18o":-39.0},{"ka":22.5,"d18o":-39.5},{"ka":22.375,"d18o":-40.5},{"ka":22.25,"d18o":-40.1},{"ka":22.125,"d18o":-39.15},{"ka":22,"d18o":-39.6},{"ka":21.875,"d18o":-40.4},{"ka":21.75,"d18o":-39.8},{"ka":21.625,"d18o":-39.45},{"ka":21.5,"d18o":-40.5},{"ka":21.375,"d18o":-41.05},{"ka":21.25,"d18o":-40.2},{"ka":21.125,"d18o":-39.9},{"ka":21,"d18o":-41.0},{"ka":20.875,"d18o":-41.55},{"ka":20.75,"d18o":-40.7},{"ka":20.625,"d18o":-40.2},{"ka":20.5,"d18o":-41.1},{"ka":20.375,"d18o":-41.45},{"ka":20.25,"d18o":-40.4},{"ka":20.125,"d18o":-39.95},{"ka":20,"d18o":-40.9},{"ka":19.875,"d18o":-41.25},{"ka":19.75,"d18o":-40.2},{"ka":19.625,"d18o":-39.8},{"ka":19.5,"d18o":-40.8},{"ka":19.375,"d18o":-41.7},{"ka":19.25,"d18o":-41.2},{"ka":19.125,"d18o":-40.2},{"ka":19,"d18o":-40.6},{"ka":18.875,"d18o":-41.55},{"ka":18.75,"d18o":-41.1},{"ka":18.625,"d18o":-40.2},{"ka":18.5,"d18o":-40.7},{"ka":18.375,"d18o":-41.65},{"ka":18.25,"d18o":-41.2},{"ka":18.125,"d18o":-40.3},{"ka":18,"d18o":-40.8},{"ka":17.875,"d18o":-41.25},{"ka":17.75,"d18o":-40.3},{"ka":17.625,"d18o":-39.9},{"ka":17.5,"d18o":-40.9},{"ka":17.375,"d18o":-41.25},{"ka":17.25,"d18o":-40.2},{"ka":17.125,"d18o":-39.25},{"ka":17,"d18o":-39.7},{"ka":16.875,"d18o":-40.5},{"ka":16.75,"d18o":-39.9},{"ka":16.625,"d18o":-38.85},{"ka":16.5,"d18o":-39.2},{"ka":16.375,"d18o":-39.65},{"ka":16.25,"d18o":-38.7},{"ka":16.125,"d18o":-37.75},{"ka":16,"d18o":-38.2},{"ka":15.875,"d18o":-38.7},{"ka":15.75,"d18o":-37.8},{"ka":15.625,"d18o":-37.4},{"ka":15.5,"d18o":-38.4},{"ka":15.375,"d18o":-38.75},{"ka":15.25,"d18o":-37.7},{"ka":15.125,"d18o":-37.3},{"ka":15,"d18o":-38.3},{"ka":14.875,"d18o":-38.75},{"ka":14.75,"d18o":-37.8},{"ka":14.625,"d18o":-37.5},{"ka":14.5,"d18o":-38.6},{"ka":14.375,"d18o":-39.5},{"ka":14.25,"d18o":-39.0},{"ka":14.125,"d18o":-38.15},{"ka":14,"d18o":-38.7},{"ka":13.875,"d18o":-39.7},{"ka":13.75,"d18o":-39.3},{"ka":13.625,"d18o":-38.35},{"ka":13.5,"d18o":-38.8},{"ka":13.375,"d18o":-38.9},{"ka":13.25,"d18o":-37.6},{"ka":13.125,"d18o":-35.9},{"ka":13,"d18o":-35.6},{"ka":12.875,"d18o":-36.0},{"ka":12.75,"d18o":-35.0},{"ka":12.625,"d18o":-34.0},{"ka":12.5,"d18o":-34.4},{"ka":12.375,"d18o":-36.1},{"ka":12.25,"d18o":-36.4},{"ka":12.125,"d18o":-36.1},{"ka":12,"d18o":-37.2},{"ka":11.875,"d18o":-38.45},{"ka":11.75,"d18o":-38.3},{"ka":11.625,"d18o":-38.05},{"ka":11.5,"d18o":-39.2},{"ka":11.375,"d18o":-40.25},{"ka":11.25,"d18o":-39.9},{"ka":11.125,"d18o":-39.65},{"ka":11,"d18o":-40.8},{"ka":10.875,"d18o":-41.75},{"ka":10.75,"d18o":-41.3},{"ka":10.625,"d18o":-40.25},{"ka":10.5,"d18o":-40.6},{"ka":10.375,"d18o":-40.7},{"ka":10.25,"d18o":-39.4},{"ka":10.125,"d18o":-38.1},{"ka":10,"d18o":-38.2},{"ka":9.875,"d18o":-38.5},{"ka":9.75,"d18o":-37.4},{"ka":9.625,"d18o":-36.05},{"ka":9.5,"d18o":-36.1},{"ka":9.375,"d18o":-36.95},{"ka":9.25,"d18o":-36.4},{"ka":9.125,"d18o":-35.4},{"ka":9,"d18o":-35.8},{"ka":8.875,"d18o":-36.55},{"ka":8.75,"d18o":-35.9},{"ka":8.625,"d18o":-34.95},{"ka":8.5,"d18o":-35.4},{"ka":8.375,"d18o":-35.95},{"ka":8.25,"d18o":-35.1},{"ka":8.125,"d18o":-34.25},{"ka":8,"d18o":-34.8}
  ],
  "gisp2": [
    {"ka":48,"d18o":38.0},{"ka":47.75,"d18o":38.3},{"ka":47.5,"d18o":38.6},{"ka":47.25,"d18o":38.9},{"ka":47,"d18o":38.7},{"ka":46.75,"d18o":39.1},{"ka":46.5,"d18o":39.3},{"ka":46.25,"d18o":39.2},{"ka":46,"d18o":39.6},{"ka":45.75,"d18o":39.4},{"ka":45.5,"d18o":39.7},{"ka":45.25,"d18o":40.4},{"ka":45,"d18o":38.6},{"ka":44.75,"d18o":38.5},{"ka":44.5,"d18o":39.1},{"ka":44.25,"d18o":40.2},{"ka":44,"d18o":41.1},{"ka":43.75,"d18o":40.6},{"ka":43.5,"d18o":40.9},{"ka":43.25,"d18o":36.7},{"ka":43,"d18o":37.1},{"ka":42.75,"d18o":37.8},{"ka":42.5,"d18o":38.0},{"ka":42.25,"d18o":38.6},{"ka":42,"d18o":39.3},{"ka":41.75,"d18o":39.0},{"ka":41.5,"d18o":39.6},{"ka":41.25,"d18o":41.4},{"ka":41,"d18o":41.6},{"ka":40.75,"d18o":38.1},{"ka":40.5,"d18o":38.6},{"ka":40.25,"d18o":39.8},{"ka":40,"d18o":41.4},{"ka":39.75,"d18o":38.0},{"ka":39.5,"d18o":38.8},{"ka":39.25,"d18o":41.4},{"ka":39,"d18o":40.4},{"ka":38.75,"d18o":41.4},{"ka":38.5,"d18o":40.7},{"ka":38.25,"d18o":40.9},{"ka":38,"d18o":41.0},{"ka":37.75,"d18o":41.3},{"ka":37.5,"d18o":37.2},{"ka":37.25,"d18o":37.6},{"ka":37,"d18o":37.9},{"ka":36.75,"d18o":38.3},{"ka":36.5,"d18o":40.9},{"ka":36.25,"d18o":37.8},{"ka":36,"d18o":38.4},{"ka":35.75,"d18o":40.6},{"ka":35.5,"d18o":40.6},{"ka":35.25,"d18o":40.4},{"ka":35,"d18o":38.3},{"ka":34.75,"d18o":38.0},{"ka":34.5,"d18o":37.8},{"ka":34.25,"d18o":40.4},{"ka":34,"d18o":37.2},{"ka":33.75,"d18o":38.0},{"ka":33.5,"d18o":38.6},{"ka":33.25,"d18o":39.3},{"ka":33,"d18o":40.4},{"ka":32.75,"d18o":41.4},{"ka":32.5,"d18o":40.2},{"ka":32.25,"d18o":38.3},{"ka":32,"d18o":38.9},{"ka":31.75,"d18o":40.9},{"ka":31.5,"d18o":42.0},{"ka":31.25,"d18o":40.9},{"ka":31,"d18o":39.9},{"ka":30.75,"d18o":37.8},{"ka":30.5,"d18o":38.6},{"ka":30.25,"d18o":40.4},{"ka":30,"d18o":41.0},{"ka":29.75,"d18o":41.4},{"ka":29.5,"d18o":41.2},{"ka":29.25,"d18o":41.4},{"ka":29,"d18o":41.3},{"ka":28.75,"d18o":41.4},{"ka":28.5,"d18o":41.1},{"ka":28.25,"d18o":41.4},{"ka":28,"d18o":40.9},{"ka":27.75,"d18o":41.2},{"ka":27.5,"d18o":40.7},{"ka":27.25,"d18o":40.9},{"ka":27,"d18o":41.1},{"ka":26.75,"d18o":40.6},{"ka":26.5,"d18o":40.9},{"ka":26.25,"d18o":40.5},{"ka":26,"d18o":40.4},{"ka":25.75,"d18o":40.7},{"ka":25.5,"d18o":40.2},{"ka":25.25,"d18o":39.9},{"ka":25,"d18o":40.3},{"ka":24.75,"d18o":40.4},{"ka":24.5,"d18o":40.1},{"ka":24.25,"d18o":40.5},{"ka":24,"d18o":39.9},{"ka":23.75,"d18o":40.2},{"ka":23.5,"d18o":39.9},{"ka":23.25,"d18o":39.6},{"ka":23,"d18o":40.1},{"ka":22.75,"d18o":39.8},{"ka":22.5,"d18o":39.9},{"ka":22.25,"d18o":40.2},{"ka":22,"d18o":39.7},{"ka":21.75,"d18o":39.9},{"ka":21.5,"d18o":39.5},{"ka":21.25,"d18o":39.9},{"ka":21,"d18o":40.3},{"ka":20.75,"d18o":40.0},{"ka":20.5,"d18o":39.8},{"ka":20.25,"d18o":40.2},{"ka":20,"d18o":40.5},{"ka":19.75,"d18o":40.1},{"ka":19.5,"d18o":40.6},{"ka":19.25,"d18o":40.3},{"ka":19,"d18o":40.0},{"ka":18.75,"d18o":40.4},{"ka":18.5,"d18o":40.2},{"ka":18.25,"d18o":39.9},{"ka":18,"d18o":40.3},{"ka":17.75,"d18o":40.0},{"ka":17.5,"d18o":39.7},{"ka":17.25,"d18o":39.9},{"ka":17,"d18o":40.2},{"ka":16.75,"d18o":39.8},{"ka":16.5,"d18o":39.9},{"ka":16.25,"d18o":39.5},{"ka":16,"d18o":39.9},{"ka":15.75,"d18o":40.2},{"ka":15.5,"d18o":39.6},{"ka":15.25,"d18o":39.9},{"ka":15,"d18o":40.3},{"ka":14.75,"d18o":39.9},{"ka":14.5,"d18o":40.1},{"ka":14.25,"d18o":39.7},{"ka":14,"d18o":40.0},{"ka":13.75,"d18o":39.6},{"ka":13.5,"d18o":39.2},{"ka":13.25,"d18o":38.6},{"ka":13,"d18o":37.5},{"ka":12.75,"d18o":36.7},{"ka":12.5,"d18o":37.3},{"ka":12.25,"d18o":39.3},{"ka":12,"d18o":40.1},{"ka":11.75,"d18o":40.9},{"ka":11.5,"d18o":41.2},{"ka":11.25,"d18o":41.4},{"ka":11,"d18o":40.6},{"ka":10.75,"d18o":40.9},{"ka":10.5,"d18o":40.4},{"ka":10.25,"d18o":39.6},{"ka":10,"d18o":38.3},{"ka":9.75,"d18o":37.2},{"ka":9.5,"d18o":36.8},{"ka":9.25,"d18o":36.5},{"ka":9,"d18o":36.3},{"ka":8.75,"d18o":36.0},{"ka":8.5,"d18o":35.9},{"ka":8.25,"d18o":35.7},{"ka":8,"d18o":35.5}
  ]
}
}
